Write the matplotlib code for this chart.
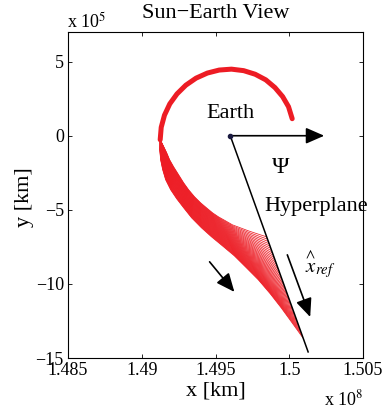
import numpy as np
import matplotlib
matplotlib.use('Agg')
import matplotlib.pyplot as plt

plt.rcParams['font.family'] = ['Liberation Serif', 'DejaVu Serif']
plt.rcParams['mathtext.fontset'] = 'stix'
plt.rcParams['axes.unicode_minus'] = True

# Units: x in 1e8 km, y in 1e5 km
# Common spiral part of all trajectories (counter-clockwise from the start near Earth)
spiral_x = [1.50020, 1.49995, 1.49955, 1.49903, 1.49841, 1.49769, 1.49691,
            1.49608, 1.49525, 1.49445, 1.49368, 1.49299, 1.49239, 1.49190,
            1.49154, 1.49132, 1.49125]
spiral_y = [1.149, 1.959, 2.642, 3.250, 3.770, 4.149, 4.392,
            4.493, 4.432, 4.230, 3.885, 3.412, 2.824, 2.149,
            1.385, 0.568, -0.270]

# Upper (earliest-arriving) edge of the trajectory family
upper_x = [1.49125, 1.49149, 1.49169, 1.49189, 1.49216, 1.49250, 1.49284,
           1.49318, 1.49358, 1.49399, 1.49439, 1.49480, 1.49520, 1.49568,
           1.49615, 1.49669, 1.49723, 1.49784, 1.49847]
upper_y = [-0.270, -0.743, -1.149, -1.622, -2.095, -2.635, -3.176,
           -3.649, -4.122, -4.527, -4.865, -5.203, -5.473, -5.743,
           -6.014, -6.216, -6.419, -6.622, -6.824]

# Lower (latest-arriving) edge of the trajectory family
lower_x = [1.49125, 1.49122, 1.49128, 1.49142, 1.49162, 1.49196, 1.49237,
           1.49284, 1.49338, 1.49405, 1.49473, 1.49547, 1.49628, 1.49710,
           1.49791, 1.49872, 1.49946, 1.50020, 1.50093]
lower_y = [-0.270, -0.946, -1.622, -2.297, -2.973, -3.649, -4.257,
           -4.865, -5.541, -6.216, -6.824, -7.432, -8.108, -8.919,
           -9.730, -10.676, -11.622, -12.635, -13.649]

n_traj = 45

earth_x, earth_y = 1.49600, 0.0
hyper_end_x, hyper_end_y = 1.50128, -14.59
sun_arrow_end = (1.50237, 0.0)
xref_arrow = ((1.49987, -8.04), (1.50142, -12.23))
motion_arrow = ((1.49460, -8.51), (1.49628, -10.54))

xticks = [1.485, 1.49, 1.495, 1.5, 1.505]
xticklabels = ['1.485', '1.49', '1.495', '1.5', '1.505']
yticks = [-15, -10, -5, 0, 5]
yticklabels = ['\u221215', '\u221210', '\u22125', '0', '5']

red = '#ed1c24'

fig = plt.figure(figsize=(3.86, 4.11), dpi=100)
ax = fig.add_axes([68/386, 53/411, 295/386, 326/411])

ux, uy = np.array(upper_x), np.array(upper_y)
lx, ly = np.array(lower_x), np.array(lower_y)
for w in np.linspace(0, 1, n_traj):
    ax.plot((1-w)*ux + w*lx, (1-w)*uy + w*ly, color=red, lw=0.55,
            solid_capstyle='butt', solid_joinstyle='round', zorder=2)
ax.plot(spiral_x, spiral_y, color=red, lw=3.6, solid_capstyle='round',
        solid_joinstyle='round', zorder=2)

# hyperplane
ax.plot([earth_x, hyper_end_x], [earth_y, hyper_end_y], color='k', lw=1.1, zorder=3)

ap = dict(arrowstyle='-|>,head_length=0.8,head_width=0.35', lw=1.2, color='k',
          shrinkA=0, shrinkB=0, mutation_scale=14)
ax.annotate('', xy=sun_arrow_end, xytext=(earth_x, earth_y), arrowprops=ap, zorder=4)
ax.annotate('', xy=xref_arrow[1], xytext=xref_arrow[0], arrowprops=ap, zorder=4)
ax.annotate('', xy=motion_arrow[1], xytext=motion_arrow[0], arrowprops=ap, zorder=4)

ax.plot([earth_x], [earth_y], 'o', color='#1a1a40', ms=3, zorder=5)

ax.text(earth_x, 1.22, 'Earth', fontsize=16, ha='center', va='baseline')
ax.text(1.49939, -2.5, '\u03a8', fontsize=17, ha='center', va='baseline')
ax.text(1.49831, -5.07, 'Hyperplane', fontsize=16, ha='left', va='baseline')
ax.text(1.50105, -9.19, r'$\overset{\wedge}{x}_{ref}$', fontsize=15,
        ha='left', va='baseline')

ax.set_xlim(1.485, 1.505)
ax.set_ylim(-15, 7)
ax.set_xticks(xticks)
ax.set_xticklabels(xticklabels)
ax.set_yticks(yticks)
ax.set_yticklabels(yticklabels)
ax.tick_params(direction='in', top=True, right=True, length=3, width=0.6,
               labelsize=13, pad=3)
for s in ax.spines.values():
    s.set_linewidth(0.8)

ax.set_title('Sun\u2212Earth View', fontsize=16, pad=10)
ax.text(0.5, -37/326, 'x [km]', transform=ax.transAxes, fontsize=16,
        ha='center', va='baseline')
ax.text(-44/295, 0.494, 'y [km]', transform=ax.transAxes, fontsize=16,
        rotation=90, ha='center', va='center')
ax.text(-0.003, 1 + 4/326, 'x 10$^{5}$', transform=ax.transAxes, fontsize=13,
        ha='left', va='baseline')
ax.text(1.0, -47/326, 'x 10$^{8}$', transform=ax.transAxes, fontsize=13,
        ha='right', va='baseline')

fig.savefig('out.png', dpi=100)
